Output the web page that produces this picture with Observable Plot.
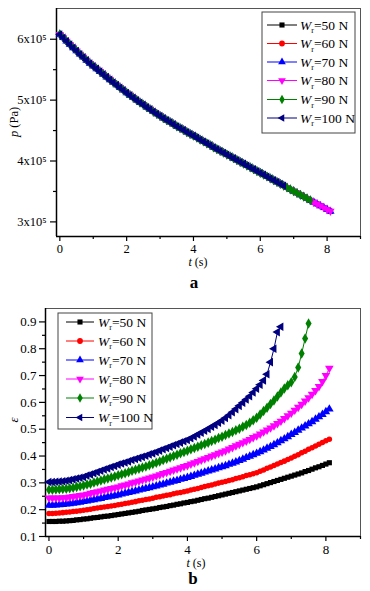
<!DOCTYPE html>
<html><head><meta charset="utf-8">
<script src="https://cdn.jsdelivr.net/npm/d3@7"></script>
<script src="https://cdn.jsdelivr.net/npm/@observablehq/plot@0.6"></script>
<style>
body{margin:0;background:#fff;}
#wrap{position:relative;width:370px;height:591px;font-family:"Liberation Serif","Times New Roman",serif;overflow:hidden;}
#wrap > svg{position:absolute;left:0;}
#wrap svg, #wrap svg text{font-family:"Liberation Serif","Times New Roman",serif !important;}
</style></head><body><div id="wrap"></div>
<script>
// ---------- data ----------
const time = [0,0.1,0.2,0.3,0.4,0.5,0.6,0.7,0.8,0.9,1.0,
1.1,1.2,1.3,1.4,1.5,1.6,1.7,1.8,1.9,2.0,
2.1,2.2,2.3,2.4,2.5,2.6,2.7,2.8,2.9,3.0,
3.1,3.2,3.3,3.4,3.5,3.6,3.7,3.8,3.9,4.0,
4.1,4.2,4.3,4.4,4.5,4.6,4.7,4.8,4.9,5.0,
5.1,5.2,5.3,5.4,5.5,5.6,5.7,5.8,5.9,6.0,
6.1,6.2,6.3,6.4,6.5,6.6,6.7,6.8,6.9,7.0,
7.1,7.2,7.3,7.4,7.5,7.6,7.7,7.8,7.9,8.0,8.1];

const loads = ["50","60","70","80","90","100"];
const colors = ["#000000","#ff0000","#0000ff","#ff00ff","#008000","#000080"];
const symbols = ["square","circle","triangle","triangle","diamond","triangle"];
const rotations = [0,0,0,180,0,-90];
const endTime = [8.1,8.1,8.1,8.1,7.5,6.7];

// pressure p (x10^5 Pa), same curve for all loads
const pressure = [6.08,6.025,5.97,5.915,5.86,5.81,5.755,5.705,5.655,5.605,5.56,
5.515,5.47,5.425,5.38,5.335,5.29,5.25,5.205,5.165,5.12,
5.08,5.04,5.0,4.96,4.925,4.885,4.85,4.81,4.775,4.74,
4.705,4.67,4.64,4.605,4.57,4.54,4.51,4.475,4.445,4.415,
4.385,4.35,4.32,4.29,4.26,4.225,4.195,4.165,4.135,4.105,
4.075,4.045,4.015,3.985,3.955,3.925,3.895,3.865,3.835,3.805,
3.775,3.745,3.715,3.685,3.655,3.625,3.595,3.565,3.535,3.505,
3.475,3.445,3.415,3.385,3.355,3.325,3.295,3.265,3.235,3.205,3.175];

// eccentricity ratio epsilon
const eps50 = [.156,.156,.156,.157,.157,.158,.159,.160,.162,.163,.165,
.166,.168,.170,.171,.173,.175,.176,.178,.180,.182,
.184,.186,.188,.190,.192,.194,.197,.199,.201,.203,
.205,.208,.210,.212,.215,.217,.220,.222,.225,.227,
.230,.232,.235,.238,.241,.243,.246,.249,.252,.255,
.258,.261,.264,.267,.270,.273,.276,.279,.282,.285,
.289,.293,.297,.301,.305,.309,.313,.317,.321,.325,
.329,.333,.337,.342,.346,.351,.356,.360,.365,.370,.375];
const eps60 = [.186,.186,.187,.188,.189,.190,.191,.193,.194,.196,.198,
.200,.202,.204,.206,.208,.210,.212,.214,.216,.218,
.220,.223,.225,.228,.230,.233,.235,.238,.240,.243,
.246,.248,.251,.254,.256,.259,.262,.264,.267,.270,
.273,.276,.279,.283,.286,.289,.292,.296,.299,.302,
.305,.309,.312,.316,.319,.323,.327,.330,.334,.338,
.343,.348,.354,.359,.365,.370,.376,.381,.387,.393,
.399,.405,.412,.418,.425,.431,.437,.444,.450,.457,.463];
const eps70 = [.216,.216,.217,.218,.219,.221,.222,.224,.226,.228,.230,
.232,.235,.237,.240,.242,.245,.247,.250,.252,.255,
.258,.261,.264,.267,.270,.273,.276,.279,.282,.285,
.288,.292,.295,.299,.302,.306,.309,.313,.316,.320,
.324,.328,.332,.336,.340,.344,.348,.352,.356,.360,
.364,.369,.373,.378,.383,.388,.394,.399,.405,.410,
.416,.422,.429,.435,.442,.449,.457,.464,.472,.480,
.488,.496,.504,.512,.520,.528,.537,.546,.555,.565,.575];
const eps80 = [.244,.244,.244,.244,.245,.245,.247,.249,.251,.253,.255,
.258,.261,.264,.267,.270,.273,.276,.279,.282,.285,
.289,.292,.296,.300,.303,.307,.311,.314,.318,.322,
.326,.330,.335,.339,.343,.348,.352,.356,.361,.365,
.370,.375,.380,.385,.390,.395,.400,.405,.410,.415,
.420,.426,.432,.438,.444,.450,.456,.462,.469,.475,
.482,.490,.497,.505,.513,.521,.530,.540,.550,.560,
.571,.582,.593,.605,.617,.630,.644,.659,.678,.700,.727];
const eps90 = [.274,.274,.275,.276,.277,.278,.280,.282,.285,.287,.290,
.294,.297,.301,.305,.309,.313,.316,.320,.324,.328,
.332,.336,.340,.345,.349,.353,.357,.361,.366,.370,
.375,.380,.385,.390,.395,.400,.405,.410,.415,.420,
.425,.430,.435,.440,.445,.450,.456,.461,.467,.472,
.478,.484,.490,.496,.502,.509,.516,.524,.533,.543,
.555,.568,.580,.594,.607,.622,.637,.652,.664,.675,
.695,.730,.782,.838,.894];
const eps100 = [.303,.303,.304,.305,.306,.308,.310,.313,.316,.319,.322,
.327,.331,.336,.340,.345,.350,.354,.359,.363,.368,
.372,.376,.380,.385,.389,.393,.397,.401,.406,.410,
.415,.420,.425,.430,.435,.440,.445,.450,.455,.460,
.466,.473,.480,.487,.494,.501,.509,.516,.524,.532,
.542,.552,.563,.575,.587,.599,.611,.623,.637,.651,
.666,.682,.705,.750,.800,.862,.882];
const epsSeries = [eps50, eps60, eps70, eps80, eps90, eps100];

const xDomain = [-0.1, 9];
const xMajor = [0,2,4,6,8];
const xMinor = [1,3,5,7,9];
const pDomain = [2.76, 6.505];
const pMajor = [3,4,5,6];
const pMinor = [3.5,4.5,5.5];
const eDomain = [0.1, 0.95];
const eMajor = [0.1,0.2,0.3,0.4,0.5,0.6,0.7,0.8,0.9];
const eMinor = [0.15,0.25,0.35,0.45,0.55,0.65,0.75,0.85];

// ---------- build tables ----------
const pRows = loads.map((L, i) => time.map((t, j) => ({t, v: pressure[j], s: i})).filter(d => d.t <= endTime[i] + 1e-9));
const eRows = loads.map((L, i) => epsSeries[i].map((v, j) => ({t: time[j], v, s: i})));

function seriesMarks(rows, r) {
  const marks = [];
  rows.forEach((data, i) => {
    marks.push(Plot.line(data, {x: "t", y: "v", stroke: colors[i], strokeWidth: 1}));
    marks.push(Plot.dot(data, {x: "t", y: "v", fill: colors[i], stroke: "none",
      symbol: symbols[i], rotate: rotations[i], r: symbols[i] === "square" ? r : (symbols[i] === "circle" ? r * 0.95 : r * 1.1)}));
  });
  return marks;
}

const wrap = document.getElementById("wrap");
const serif = '"Liberation Serif", "Times New Roman", serif';

const topPlot = Plot.plot({
  width: 370, height: 290,
  marginLeft: 56, marginRight: 10, marginTop: 8, marginBottom: 54,
  style: {fontFamily: serif, fontSize: "12.5px", color: "#000", background: "transparent", overflow: "visible"},
  x: {domain: xDomain},
  y: {domain: pDomain},
  marks: [
    Plot.frame({stroke: "#555", strokeWidth: 1}),
    Plot.ruleY([pDomain[0]], {stroke: "#000", strokeWidth: 1.5}),
    Plot.ruleX([xDomain[0]], {stroke: "#000", strokeWidth: 1.5}),
    Plot.axisX({ticks: xMajor, tickSize: 5, tickPadding: 3, label: null, tickFormat: d => String(d), strokeWidth: 1.2}),
    Plot.axisX({ticks: xMinor, tickSize: 3, tickFormat: () => "", label: null, strokeWidth: 1.2}),
    Plot.axisY({ticks: pMajor, tickSize: 6, tickPadding: 4, label: null, tickFormat: d => `${d}x10⁵`, strokeWidth: 1.2}),
    Plot.axisY({ticks: pMinor, tickSize: 3, tickFormat: () => "", label: null, strokeWidth: 1.2}),
    ...seriesMarks(pRows, 2.8)
  ]
});
topPlot.style.top = "0px";
wrap.appendChild(topPlot);

const botPlot = Plot.plot({
  width: 370, height: 301,
  marginLeft: 45, marginRight: 10, marginTop: 18, marginBottom: 55,
  style: {fontFamily: serif, fontSize: "13px", color: "#000", background: "transparent", overflow: "visible"},
  x: {domain: xDomain},
  y: {domain: eDomain},
  marks: [
    Plot.frame({stroke: "#555", strokeWidth: 1}),
    Plot.ruleY([eDomain[0]], {stroke: "#000", strokeWidth: 1.5}),
    Plot.ruleX([xDomain[0]], {stroke: "#000", strokeWidth: 1.5}),
    Plot.axisX({ticks: xMajor, tickSize: 5, tickPadding: 3, label: null, tickFormat: d => String(d), strokeWidth: 1.2}),
    Plot.axisX({ticks: xMinor, tickSize: 3, tickFormat: () => "", label: null, strokeWidth: 1.2}),
    Plot.axisY({ticks: eMajor, tickSize: 6, tickPadding: 3, label: null, tickFormat: d3.format(".1f"), strokeWidth: 1.2}),
    Plot.axisY({ticks: eMinor, tickSize: 3, tickFormat: () => "", label: null, strokeWidth: 1.2}),
    ...seriesMarks(eRows, 2.9)
  ]
});
botPlot.style.top = "290px";
wrap.appendChild(botPlot);

// ---------- overlay: axis titles, panel letters, legends ----------
const ov = d3.select(wrap).append("svg")
  .attr("width", 370).attr("height", 591)
  .style("top", "0px").style("pointer-events", "none");

function label(x, y, parts, size, rotate) {
  const t = ov.append("text")
    .attr("transform", `translate(${x},${y})` + (rotate ? ` rotate(${rotate})` : ""))
    .attr("text-anchor", "middle").attr("dominant-baseline", "central")
    .attr("font-size", size).attr("fill", "#000");
  parts.forEach(p => {
    t.append("tspan").text(p.text)
      .attr("font-style", p.italic ? "italic" : null)
      .attr("font-weight", p.bold ? "bold" : null);
  });
}
label(14, 122, [{text: "p", italic: true}, {text: " (Pa)"}], 12.5, -90);
label(198, 262, [{text: "t", italic: true}, {text: " (s)"}], 12);
label(194, 282, [{text: "a", bold: true}], 17);
label(13, 420, [{text: "ε", italic: true}], 13, -90);
label(196, 563, [{text: "t", italic: true}, {text: " (s)"}], 12);
label(193, 578, [{text: "b", bold: true}], 17);

const symMap = {square: d3.symbolSquare, circle: d3.symbolCircle, triangle: d3.symbolTriangle, diamond: d3.symbolDiamond};

function legend(x0, y0, w, h, rowY, lineX0, lineX1, textX) {
  ov.append("rect").attr("x", x0).attr("y", y0).attr("width", w).attr("height", h)
    .attr("fill", "#fff").attr("stroke", "#444").attr("stroke-width", 1);
  loads.forEach((L, i) => {
    const y = rowY[i];
    ov.append("line").attr("x1", lineX0).attr("x2", lineX1).attr("y1", y).attr("y2", y)
      .attr("stroke", colors[i]).attr("stroke-width", 1);
    ov.append("path")
      .attr("d", d3.symbol(symMap[symbols[i]], 26)())
      .attr("transform", `translate(${(lineX0 + lineX1) / 2},${y}) rotate(${rotations[i]})`)
      .attr("fill", colors[i]);
    const t = ov.append("text").attr("x", textX).attr("y", y + 4.5).attr("font-size", 13.5).attr("fill", "#000");
    t.append("tspan").text("W").attr("font-style", "italic");
    t.append("tspan").text("r").attr("font-size", 8).attr("dy", 3.5);
    t.append("tspan").text(`=${L} N`).attr("dy", -3.5);
  });
}
legend(262, 12, 93, 121, [25, 43.5, 62, 80.5, 99.5, 118], 267, 297, 300);
legend(58, 313, 94, 116, [322, 341, 360, 379, 398, 417.5], 66, 94, 98);
</script></body></html>
